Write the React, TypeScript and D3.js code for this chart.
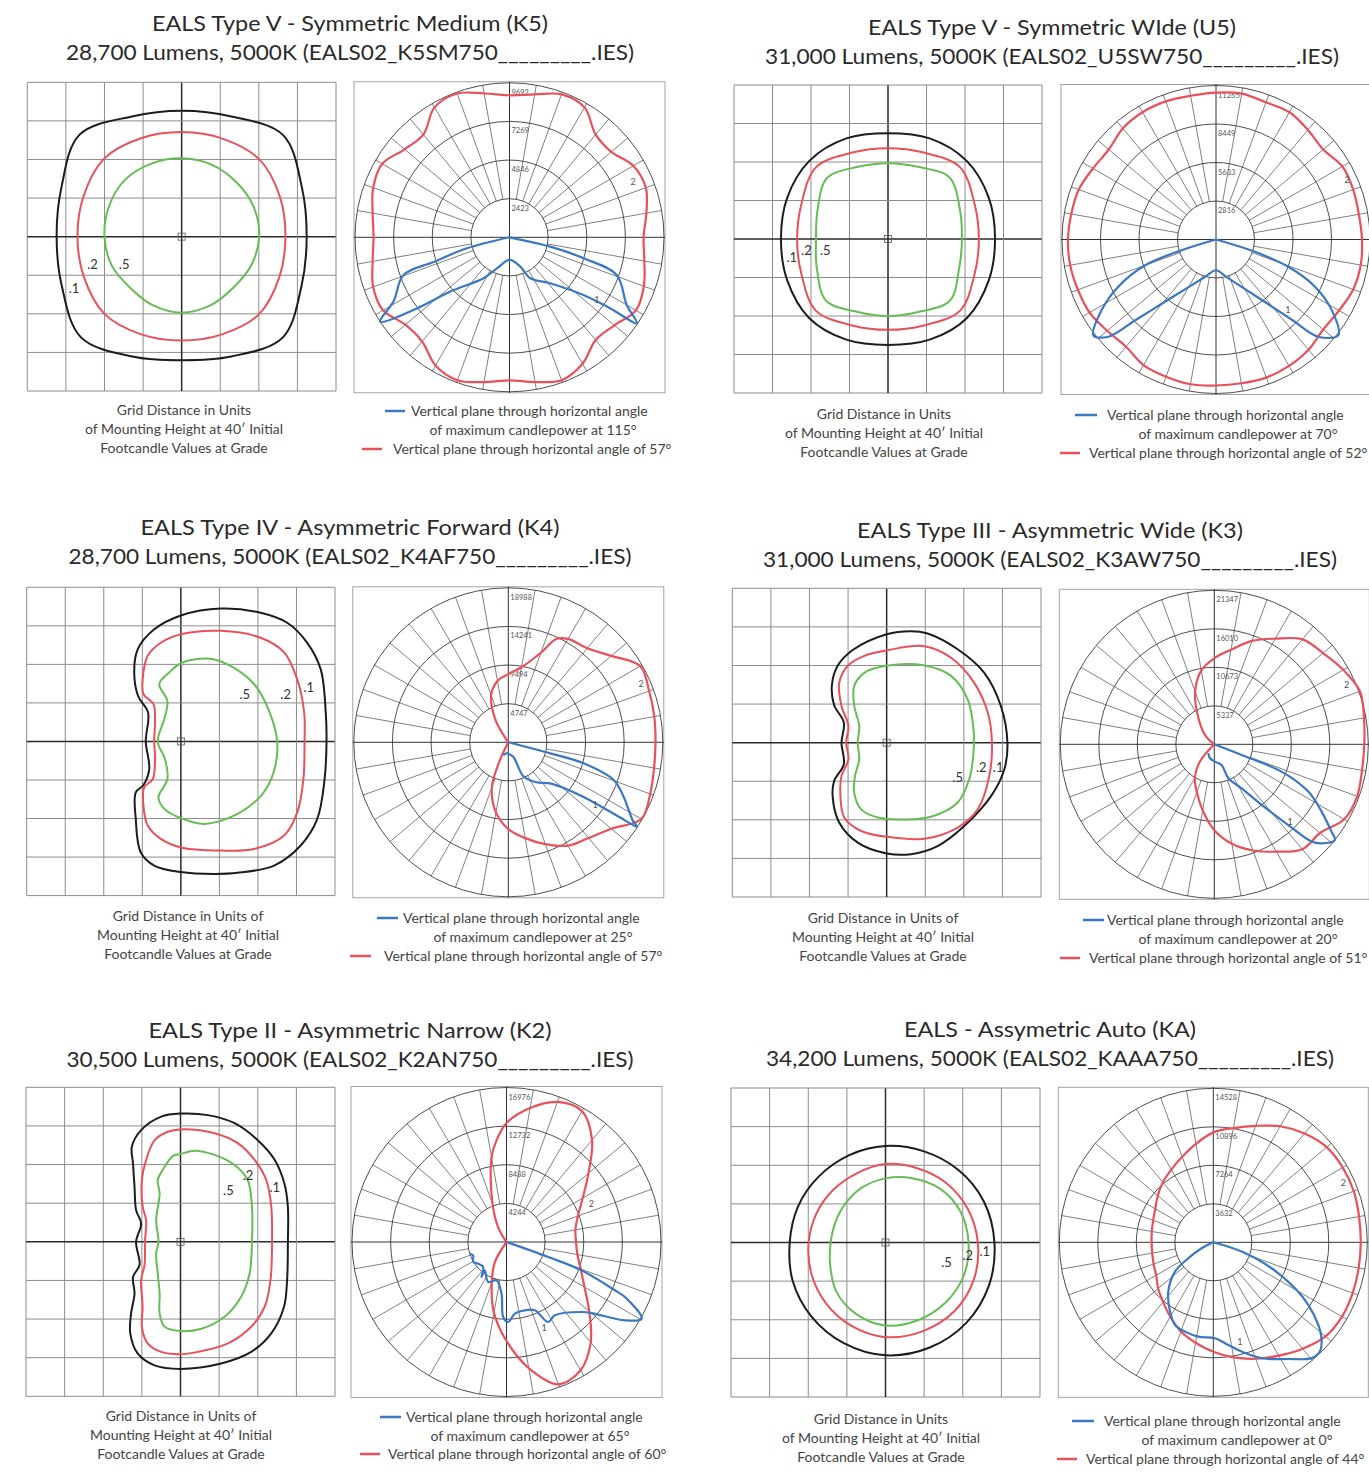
import React from "react";
import * as d3 from "d3";

type P = [number, number];

const W = 1369;
const H = 1475;
const FONT = "Lato, 'Open Sans', 'DejaVu Sans', sans-serif";
const RED = "#e8505c";
const BLUE = "#3b78c1";
const GREEN = "#66bc55";
const BLACK = "#1c1c1c";

// ---------------- text data ----------------
const titleLine1 = [
  "EALS Type V - Symmetric Medium (K5)",
  "EALS Type V - Symmetric WIde (U5)",
  "EALS Type IV - Asymmetric Forward (K4)",
  "EALS Type III - Asymmetric Wide (K3)",
  "EALS Type II - Asymmetric Narrow (K2)",
  "EALS - Assymetric Auto (KA)",
];
const titleLine2 = [
  "28,700 Lumens, 5000K (EALS02_K5SM750_________.IES)",
  "31,000 Lumens, 5000K (EALS02_U5SW750_________.IES)",
  "28,700 Lumens, 5000K (EALS02_K4AF750_________.IES)",
  "31,000 Lumens, 5000K (EALS02_K3AW750_________.IES)",
  "30,500 Lumens, 5000K (EALS02_K2AN750_________.IES)",
  "34,200 Lumens, 5000K (EALS02_KAAA750_________.IES)",
];
const maxCandleAngle = ["115°", "70°", "25°", "20°", "65°", "0°"];
const secondPlaneAngle = ["57°", "52°", "57°", "51°", "60°", "44°"];
const captionA = ["Grid Distance in Units", "of Mounting Height at 40′ Initial", "Footcandle Values at Grade"];
const captionB = ["Grid Distance in Units of", "Mounting Height at 40′ Initial", "Footcandle Values at Grade"];
const footcandleLevels = [".1", ".2", ".5"];

const ringLabels = [
  ["2423", "4846", "7269", "9692"],
  ["2816", "5633", "8449", "11265"],
  ["4747", "9494", "14241", "18988"],
  ["5337", "10673", "16010", "21347"],
  ["4244", "8488", "12732", "16976"],
  ["3632", "7264", "10896", "14528"],
];
const polarMax = [9692, 11265, 18988, 21347, 16976, 14528];

// ---------------- isofootcandle contours (grid cells) ----------------
// radii at 16 equal angles (clockwise from up), in grid cells
const isoK5Black = [3.26, 3.37, 3.72, 3.37, 3.24, 3.36, 3.7, 3.36, 3.2, 3.36, 3.69, 3.36, 3.24, 3.37, 3.74, 3.37];
const isoK5Red = [2.71, 2.75, 2.84, 2.75, 2.69, 2.74, 2.84, 2.74, 2.69, 2.74, 2.83, 2.74, 2.7, 2.75, 2.85, 2.76];
const isoK5Green = [2.03, 2.02, 2.0, 2.02, 2.01, 1.95, 1.88, 1.93, 1.97, 1.93, 1.88, 1.96, 2.0, 2.04, 2.08, 2.05];

const isoU5Black = [2.75, 2.83, 2.88, 2.83, 2.78, 2.83, 2.9, 2.83, 2.75, 2.83, 2.9, 2.83, 2.78, 2.83, 2.88, 2.83];
const isoU5Red = [2.36, 2.43, 2.64, 2.43, 2.36, 2.43, 2.64, 2.43, 2.36, 2.43, 2.64, 2.43, 2.36, 2.43, 2.64, 2.43];
const isoU5Green = [1.97, 2.03, 2.26, 2.02, 1.92, 2.0, 2.27, 2.05, 2.0, 2.05, 2.27, 2.0, 1.87, 1.98, 2.24, 2.03];

const isoKABlack = [2.5, 2.56, 2.66, 2.76, 2.82, 2.9, 2.95, 2.95, 2.92, 2.82, 2.71, 2.6, 2.48, 2.45, 2.43, 2.45];
const isoKARed = [2.03, 2.09, 2.2, 2.3, 2.39, 2.48, 2.52, 2.49, 2.45, 2.33, 2.2, 2.08, 1.99, 1.94, 1.92, 1.94];
const isoKAGreen = [1.66, 1.8, 1.98, 2.1, 2.15, 2.2, 2.2, 2.18, 2.15, 2.0, 1.8, 1.55, 1.42, 1.4, 1.45, 1.55];

// point lists [x, y] in grid cells
const isoK4Black: P[] = [
  [0, 3.27], [1.04, 3.45], [2.07, 3.34], [2.76, 3.08], [3.28, 2.56], [3.63, 1.87], [3.76, 0.75], [3.78, 0],
  [3.73, -0.98], [3.54, -2.01], [3.11, -2.7], [2.42, -3.22], [1.47, -3.41], [0.86, -3.44], [0, -3.39],
  [-0.69, -3.22], [-1.04, -2.88], [-1.17, -2.01], [-1.17, -1.32], [-0.97, -1.13], [-0.82, -0.72],
  [-0.91, 0], [-0.85, 0.75], [-1.11, 1.18], [-1.21, 1.79], [-1.12, 2.39], [-0.69, 2.91],
];
const isoK4Red: P[] = [
  [0, 2.78], [1.04, 2.87], [2.07, 2.69], [2.68, 2.31], [3.02, 1.61], [3.2, 0.75], [3.21, 0], [3.18, -0.98],
  [3.02, -1.84], [2.68, -2.44], [1.9, -2.79], [1.04, -2.83], [0, -2.75], [-0.52, -2.53], [-0.86, -2.18],
  [-0.97, -1.67], [-0.95, -1.19], [-0.73, -0.98], [-0.67, -0.46], [-0.69, 0], [-0.67, 0.58], [-0.71, 0.97],
  [-0.97, 1.23], [-0.99, 1.61], [-0.86, 2.22], [-0.52, 2.56],
];
const isoK4Green: P[] = [
  [0, 2.03], [0.69, 2.15], [1.21, 2.0], [1.9, 1.49], [2.29, 0.79], [2.5, 0], [2.42, -0.76], [2.12, -1.36],
  [1.47, -1.88], [0.6, -2.14], [0, -1.99], [-0.43, -1.75], [-0.58, -1.45], [-0.35, -0.98], [-0.41, -0.46],
  [-0.6, 0], [-0.43, 0.58], [-0.35, 1.05], [-0.56, 1.49], [-0.3, 1.79],
];

const isoK3Black: P[] = [
  [0, 2.81], [0.63, 2.89], [1.06, 2.83], [1.84, 2.42], [2.53, 1.81], [2.96, 0.95], [3.13, 0], [3.05, -0.69],
  [2.71, -1.38], [2.01, -2.16], [1.32, -2.68], [0.63, -2.89], [0, -2.87], [-0.75, -2.59], [-1.23, -2.07],
  [-1.4, -1.38], [-1.36, -0.99], [-1.11, -0.56], [-1.17, 0], [-1.11, 0.52], [-1.36, 0.97], [-1.42, 1.47],
  [-1.27, 1.99], [-0.88, 2.4],
];
const isoK3Red: P[] = [
  [0, 2.39], [0.98, 2.5], [1.67, 2.2], [2.27, 1.55], [2.62, 0.78], [2.73, 0], [2.66, -0.86], [2.36, -1.73],
  [1.84, -2.2], [0.98, -2.49], [0, -2.44], [-0.66, -2.29], [-1.1, -1.94], [-1.2, -1.3], [-1.17, -0.86],
  [-0.99, -0.43], [-1.05, 0], [-0.99, 0.43], [-1.17, 0.95], [-1.23, 1.55], [-1.01, 1.99], [-0.58, 2.25],
];
const isoK3Green: P[] = [
  [0, 1.99], [0.98, 2.0], [1.67, 1.73], [2.1, 1.12], [2.25, 0.35], [2.25, -0.26], [2.14, -0.95], [1.84, -1.55],
  [1.15, -1.92], [0.46, -1.99], [-0.23, -1.94], [-0.66, -1.73], [-0.84, -1.3], [-0.82, -0.86], [-0.71, -0.43],
  [-0.75, 0], [-0.71, 0.43], [-0.84, 0.95], [-0.84, 1.47], [-0.58, 1.81],
];

const isoK2Black: P[] = [
  [0, 3.32], [0.71, 3.28], [1.4, 3.07], [2.0, 2.63], [2.44, 2.12], [2.69, 1.51], [2.78, 0.91], [2.78, 0],
  [2.76, -0.99], [2.68, -1.68], [2.35, -2.37], [1.83, -2.85], [1.05, -3.15], [0, -3.29], [-0.67, -3.2],
  [-1.11, -2.89], [-1.3, -2.37], [-1.28, -1.86], [-1.19, -1.34], [-1.23, -0.91], [-1.06, -0.6], [-1.15, 0],
  [-1.02, 0.47], [-1.15, 0.82], [-1.19, 1.42], [-1.23, 2.03], [-1.26, 2.46], [-1.02, 2.89], [-0.5, 3.24],
];
const isoK2Red: P[] = [
  [0, 2.91], [0.88, 2.81], [1.49, 2.55], [1.92, 2.12], [2.22, 1.6], [2.35, 0.91], [2.37, 0], [2.33, -0.99],
  [2.18, -1.68], [1.83, -2.2], [1.23, -2.63], [0.45, -2.85], [0, -2.91], [-0.5, -2.85], [-0.85, -2.63],
  [-1.0, -2.2], [-0.98, -1.68], [-1.02, -0.99], [-0.93, -0.6], [-0.92, 0], [-0.89, 0.56], [-0.98, 0.91],
  [-1.0, 1.6], [-0.89, 2.12], [-0.67, 2.63], [-0.33, 2.85],
];
const isoK2Green: P[] = [
  [0, 2.27], [0.36, 2.36], [0.88, 2.25], [1.4, 1.99], [1.74, 1.6], [1.85, 0.91], [1.85, 0], [1.79, -0.82],
  [1.57, -1.42], [1.14, -1.94], [0.54, -2.25], [0, -2.31], [-0.41, -2.2], [-0.54, -1.86], [-0.54, -1.34],
  [-0.59, -0.82], [-0.63, -0.3], [-0.57, 0], [-0.63, 0.56], [-0.54, 1.25], [-0.59, 1.6], [-0.46, 1.86],
  [-0.2, 2.22],
];

// label anchor points for .1 / .2 / .5 (grid cells)
const isoLabelK5: P[] = [[-2.79, -1.33], [-2.31, -0.71], [-1.49, -0.71]];
const isoLabelU5: P[] = [[-2.5, -0.47], [-2.12, -0.31], [-1.63, -0.29]];
const isoLabelK4: P[] = [[3.32, 1.41], [2.72, 1.23], [1.66, 1.23]];
const isoLabelK3: P[] = [[2.89, -0.65], [2.45, -0.65], [1.84, -0.91]];
const isoLabelK2: P[] = [[2.44, 1.42], [1.75, 1.73], [1.24, 1.34]];
const isoLabelKA: P[] = [[2.57, -0.23], [2.13, -0.34], [1.58, -0.52]];

// ---------------- candela curves ----------------
// red: [horizontal angle deg clockwise from top, candela]
const candK5Red: P[] = [
  [0, 8910], [10, 9100], [20, 9540], [30, 9410], [40, 8410], [50, 8340], [60, 8970], [70, 9100], [80, 8720],
  [90, 8410], [100, 8590], [110, 8970], [120, 9160], [130, 8590], [140, 8410], [150, 9160], [160, 9540],
  [170, 9220], [180, 8970], [190, 9220], [200, 9540], [210, 9280], [220, 8530], [230, 8530], [240, 9160],
  [250, 9100], [260, 8720], [270, 8530], [280, 8720], [290, 9100], [300, 9220], [310, 8590], [320, 8410],
  [330, 9410], [340, 9600], [350, 9160],
];
const candU5Red: P[] = [
  [0, 10750], [10, 10830], [20, 10680], [30, 10750], [40, 10460], [50, 10240], [60, 10680], [70, 10680],
  [80, 10610], [90, 10680], [100, 10750], [110, 10680], [120, 10390], [130, 10240], [140, 10530], [150, 10680],
  [160, 10750], [170, 10680], [180, 10680], [190, 10750], [200, 10680], [210, 10610], [220, 10240], [230, 10390],
  [240, 10680], [250, 10750], [260, 10830], [270, 10830], [280, 10750], [290, 10680], [300, 10390], [310, 10240],
  [320, 10610], [330, 10750], [340, 10750], [350, 10680],
];
const candK4Red: P[] = [
  [0, 8380], [10, 9370], [20, 11710], [25, 14030], [30, 14670], [40, 15100], [50, 16520], [60, 18730],
  [70, 18420], [80, 18220], [90, 18090], [100, 18190], [110, 18560], [120, 18870], [130, 16520], [140, 15350],
  [150, 14670], [160, 13320], [170, 11960], [180, 10670], [190, 8750], [200, 5920], [205, 2500], [210, 0],
  [322, 0], [330, 3080], [340, 6170], [350, 7650],
];
const candK3Red: P[] = [
  [0, 11920], [10, 13310], [20, 15250], [30, 16910], [40, 18990], [50, 19680], [60, 20650], [70, 21480],
  [80, 21070], [90, 20790], [100, 20790], [110, 21070], [120, 20790], [130, 19130], [140, 18990], [150, 17190],
  [160, 15660], [170, 14000], [180, 11920], [190, 9290], [200, 7070], [210, 5410], [220, 3050], [230, 0],
  [305, 0], [315, 1800], [330, 4570], [340, 7760], [350, 10400],
];
const candK2Red: P[] = [
  [0, 13080], [10, 14950], [20, 16380], [30, 16600], [40, 14620], [50, 11760], [60, 9670], [70, 8350],
  [80, 7690], [90, 7640], [100, 7910], [110, 8680], [120, 9890], [130, 11870], [140, 14400], [150, 16270],
  [160, 16640], [170, 14070], [180, 10880], [190, 7910], [200, 4730], [210, 2530], [220, 0], [325, 0],
  [330, 1760], [340, 4510], [350, 9450], [355, 11430],
];
const candKARed: P[] = [
  [0, 10370], [10, 10940], [20, 11690], [30, 12640], [40, 13390], [50, 13960], [60, 14100], [70, 14100],
  [80, 13960], [90, 13910], [100, 13930], [110, 13990], [120, 14020], [130, 13820], [140, 13110], [150, 12350],
  [160, 11690], [170, 11030], [180, 10330], [190, 9620], [200, 8960], [210, 8110], [220, 7360], [230, 6790],
  [240, 6220], [250, 5990], [260, 5850], [270, 5820], [280, 5890], [290, 6040], [300, 6320], [310, 6840],
  [320, 7400], [330, 7920], [340, 8580], [350, 9430],
];

// blue: [vertical angle from nadir (negative = opposite side), candela]
const candK5Blue: P[] = [
  [-78, 0], [-75.5, 2760], [-72, 5010], [-70.4, 7060], [-61, 8320], [-56.9, 9690], [-52.5, 7330],
  [-47.5, 5040], [-32.4, 3040], [-22, 2100], [0, 1420], [20, 1940], [27, 2880], [41.5, 3850], [52, 5880],
  [54.8, 7720], [56, 9640], [60, 8490], [70.6, 7130], [74.2, 4830], [77.1, 2620], [79, 0],
];
const candU5Blue: P[] = [
  [-74.5, 0], [-72.7, 2630], [-70, 5520], [-64.2, 7940], [-58.3, 9830], [-52, 11380], [-47.9, 10610],
  [-45, 8350], [-40.1, 6120], [-29.7, 3990], [-16.1, 2840], [0, 2250], [15.3, 2830], [28.4, 3940],
  [38.7, 6000], [43.5, 8140], [46.4, 10310], [52, 11360], [58.6, 9920], [64.5, 8020], [69.3, 5650],
  [72.5, 2990], [74.5, 0],
];
const candK4Blue: P[] = [
  [-21.5, 1680], [-9, 1360], [0, 1400], [19, 1870], [24, 4610], [35, 6000], [45.5, 7210], [54, 11420],
  [56, 16080], [56.7, 18930], [58, 18000], [60.6, 16990], [64.7, 15680], [70.3, 13760], [74.4, 9600],
  [75.2, 5310], [76.5, 0],
];
const candK3Blue: P[] = [
  [-34, 1500], [-17, 2020], [2, 2400], [19.4, 3040], [22.4, 5100], [31.8, 7180], [38, 10670], [42.5, 15180],
  [45, 19070], [47.3, 20240], [51.6, 21340], [53.3, 20260], [57.9, 17560], [63.3, 14580], [67.9, 10060],
  [68.6, 4060], [69.5, 0],
];
const candK2Blue: P[] = [
  [-72.3, 4230], [-68.2, 3950], [-59, 4260], [-52.5, 3920], [-43, 3760], [-35.5, 4730], [-37.5, 3920],
  [-24.6, 4840], [-14.6, 4350], [-5.5, 5700], [-2.5, 8250], [1.2, 8790], [6.6, 7920], [15, 7770],
  [22.5, 8120], [27.5, 9910], [33.4, 9650], [47, 11280], [50.9, 12510], [56.5, 15600], [60.4, 17070],
  [65.1, 14340], [66, 13030], [69.3, 8810], [70.2, 4870], [71, 0],
];
const candKABlue: P[] = [
  [-64, 0], [-62.9, 1240], [-57.4, 2800], [-52.6, 4550], [-42.4, 6300], [-32, 7700], [-24.8, 8590],
  [-17.6, 8840], [-9, 9010], [1, 9050], [8.3, 9790], [14.5, 10650], [22.6, 11850], [32.7, 13080],
  [40.3, 14330], [44.3, 14400], [48.4, 13650], [51.8, 12610], [56.6, 10730], [60.6, 8850], [66, 6020],
  [71.8, 2810], [74, 0],
];

// polar curve-number labels: [angle deg, candela] for "2" (red) and "1" (blue)
const polarLabel2: P[] = [[65.8, 8510], [65.6, 10530], [66.2, 17840], [65.9, 20100], [65.5, 10240], [65.6, 13470]];
const polarLabel1: P[] = [[125.7, 6740], [134.4, 7370], [125.9, 13190], [135.6, 15010], [156.5, 10340], [165, 9700]];

// ---------------- layout ----------------
const layout = [
  { tx: 350, ty: [31, 60], tw: [396, 568], iso: { x: 27.3, y: 82.3, s: 308.7 }, pol: { cx: 509.5, cy: 237.3, R: 154.5 },
    cap: { x: 184, y: [415, 434, 453] }, leg: { b: [385, 405, 411], t1: [411, 416], t2: [533, 435], r: [362, 382, 449], t3: [393, 454] } },
  { tx: 1052, ty: [35, 64], tw: [368, 574], iso: { x: 734, y: 85, s: 308 }, pol: { cx: 1216, cy: 239.5, R: 154 },
    cap: { x: 884, y: [419, 438, 457] }, leg: { b: [1075, 1097, 415], t1: [1107, 420], t2: [1238, 439], r: [1060, 1080, 453], t3: [1089, 458] } },
  { tx: 350, ty: [535, 564], tw: [419, 563], iso: { x: 26.7, y: 587.3, s: 308.3 }, pol: { cx: 508.3, cy: 742.3, R: 154.5 },
    cap: { x: 188, y: [921, 940, 959] }, leg: { b: [377, 398, 918], t1: [403, 923], t2: [533, 942], r: [350, 371, 956], t3: [384, 961] } },
  { tx: 1050, ty: [538, 567], tw: [386, 574], iso: { x: 732.3, y: 588.3, s: 308.7 }, pol: { cx: 1214.3, cy: 744.3, R: 154 },
    cap: { x: 883, y: [923, 942, 961] }, leg: { b: [1083, 1104, 920], t1: [1107, 925], t2: [1238, 944], r: [1060, 1080, 958], t3: [1089, 963] } },
  { tx: 350, ty: [1038, 1067], tw: [403, 567], iso: { x: 26, y: 1087.3, s: 309 }, pol: { cx: 506.5, cy: 1242, R: 154.5 },
    cap: { x: 181, y: [1421, 1440, 1459] }, leg: { b: [380, 401, 1417], t1: [406, 1422], t2: [530, 1441], r: [360, 380, 1454], t3: [388, 1459] } },
  { tx: 1050, ty: [1037, 1066], tw: [292, 568], iso: { x: 731, y: 1088, s: 309 }, pol: { cx: 1213.3, cy: 1242.3, R: 154 },
    cap: { x: 881, y: [1424, 1443, 1462] }, leg: { b: [1072, 1094, 1421], t1: [1104, 1426], t2: [1237, 1445], r: [1057, 1077, 1459], t3: [1086, 1464] } },
];

type Contour = { color: string; radii?: number[]; pts?: P[] };
const isoSets: Contour[][] = [
  [{ color: BLACK, radii: isoK5Black }, { color: RED, radii: isoK5Red }, { color: GREEN, radii: isoK5Green }],
  [{ color: BLACK, radii: isoU5Black }, { color: RED, radii: isoU5Red }, { color: GREEN, radii: isoU5Green }],
  [{ color: BLACK, pts: isoK4Black }, { color: RED, pts: isoK4Red }, { color: GREEN, pts: isoK4Green }],
  [{ color: BLACK, pts: isoK3Black }, { color: RED, pts: isoK3Red }, { color: GREEN, pts: isoK3Green }],
  [{ color: BLACK, pts: isoK2Black }, { color: RED, pts: isoK2Red }, { color: GREEN, pts: isoK2Green }],
  [{ color: BLACK, radii: isoKABlack }, { color: RED, radii: isoKARed }, { color: GREEN, radii: isoKAGreen }],
];
const isoLabels = [isoLabelK5, isoLabelU5, isoLabelK4, isoLabelK3, isoLabelK2, isoLabelKA];
const redCurves = [candK5Red, candU5Red, candK4Red, candK3Red, candK2Red, candKARed];
const blueCurves = [candK5Blue, candU5Blue, candK4Blue, candK3Blue, candK2Blue, candKABlue];
const captions = [captionA, captionA, captionB, captionB, captionB, captionA];

function IsoPlot({ i }: { i: number }) {
  const L = layout[i].iso;
  const xs = d3.scaleLinear().domain([-4, 4]).range([L.x, L.x + L.s]);
  const ys = d3.scaleLinear().domain([-4, 4]).range([L.y + L.s, L.y]);
  const k = L.s / 8;
  const grid = d3.range(-4, 5);
  const ptLine = d3
    .line<P>()
    .x((d) => xs(d[0]))
    .y((d) => ys(d[1]))
    .curve(d3.curveCatmullRomClosed.alpha(0.5));
  const radLine = d3
    .lineRadial<number>()
    .angle((_d, j, arr) => (j / (arr as number[]).length) * 2 * Math.PI)
    .radius((d) => d * k)
    .curve(d3.curveCatmullRomClosed.alpha(0.5));
  return (
    <g>
      {grid.map((g) => (
        <g key={g}>
          <line x1={xs(g)} x2={xs(g)} y1={L.y} y2={L.y + L.s} stroke={g === 0 ? "#2a2a2a" : "#8c8c8c"} strokeWidth={g === 0 ? 1.5 : 1} />
          <line y1={ys(g)} y2={ys(g)} x1={L.x} x2={L.x + L.s} stroke={g === 0 ? "#2a2a2a" : "#8c8c8c"} strokeWidth={g === 0 ? 1.5 : 1} />
        </g>
      ))}
      <rect x={xs(0) - 3.5} y={ys(0) - 3.5} width={7} height={7} fill="none" stroke="#555" strokeWidth={0.8} />
      {isoSets[i].map((c, j) =>
        c.pts ? (
          <path key={j} d={ptLine(c.pts) || ""} fill="none" stroke={c.color} strokeWidth={2} />
        ) : (
          <path key={j} d={radLine(c.radii as number[]) || ""} transform={`translate(${xs(0)},${ys(0)})`} fill="none" stroke={c.color} strokeWidth={2} />
        )
      )}
      {isoLabels[i].map((p, j) => (
        <text key={j} x={xs(p[0])} y={ys(p[1])} dy="0.35em" textAnchor="middle" fontSize={13} fill="#333" fontFamily={FONT}>
          {footcandleLevels[j]}
        </text>
      ))}
    </g>
  );
}

function PolarPlot({ i }: { i: number }) {
  const { cx, cy, R } = layout[i].pol;
  const max = polarMax[i];
  const r = d3.scaleLinear().domain([0, max]).range([0, R]);
  const rings = [0.25, 0.5, 0.75, 1].map((f) => f * max);
  const spokes = d3.range(0, 360, 10).filter((a) => a % 90 !== 0);
  const rad = (a: number) => (a * Math.PI) / 180;
  const redPath = d3
    .lineRadial<P>()
    .angle((d) => rad(d[0]))
    .radius((d) => r(d[1]))
    .curve(d3.curveCatmullRomClosed.alpha(0.5))(redCurves[i]);
  const bluePath = d3
    .lineRadial<P>()
    .angle((d) => rad(180 - d[0]))
    .radius((d) => r(d[1]))
    .curve(d3.curveCatmullRom.alpha(0.5))(blueCurves[i]);
  const pos = (p: P) => [cx + r(p[1]) * Math.sin(rad(p[0])), cy - r(p[1]) * Math.cos(rad(p[0]))];
  const l2 = pos(polarLabel2[i]);
  const l1 = pos(polarLabel1[i]);
  return (
    <g>
      <rect x={cx - R - 1} y={cy - R - 1} width={2 * R + 2} height={2 * R + 2} fill="none" stroke="#9a9a9a" strokeWidth={0.9} />
      {spokes.map((a) => (
        <line
          key={a}
          x1={cx + r(rings[0]) * Math.sin(rad(a))}
          y1={cy - r(rings[0]) * Math.cos(rad(a))}
          x2={cx + R * Math.sin(rad(a))}
          y2={cy - R * Math.cos(rad(a))}
          stroke="#555"
          strokeWidth={0.75}
        />
      ))}
      {rings.map((v, j) => (
        <circle key={j} cx={cx} cy={cy} r={r(v)} fill="none" stroke="#3a3a3a" strokeWidth={0.9} />
      ))}
      <line x1={cx - R - 1} x2={cx + R + 1} y1={cy} y2={cy} stroke="#333" strokeWidth={1} />
      <line y1={cy - R - 1} y2={cy + R + 1} x1={cx} x2={cx} stroke="#333" strokeWidth={1} />
      {rings.map((v, j) => (
        <text key={j} x={cx + 2} y={cy - r(v) + 12} fontSize={7.5} fill="#555" fontFamily={FONT}>
          {ringLabels[i][j]}
        </text>
      ))}
      <path d={redPath || ""} transform={`translate(${cx},${cy})`} fill="none" stroke={RED} strokeWidth={2.2} />
      <path d={bluePath || ""} transform={`translate(${cx},${cy})`} fill="none" stroke={BLUE} strokeWidth={2.2} strokeLinejoin="round" />
      <text x={l2[0]} y={l2[1]} dy="0.35em" textAnchor="middle" fontSize={9} fill="#555" fontFamily={FONT}>2</text>
      <text x={l1[0]} y={l1[1]} dy="0.35em" textAnchor="middle" fontSize={9} fill="#555" fontFamily={FONT}>1</text>
    </g>
  );
}

function Panel({ i }: { i: number }) {
  const L = layout[i];
  const lg = L.leg;
  return (
    <g>
      <text x={L.tx} y={L.ty[0]} textAnchor="middle" fontSize={21} fill="#2a2a2a" fontFamily={FONT} textLength={L.tw[0]} lengthAdjust="spacingAndGlyphs">
        {titleLine1[i]}
      </text>
      <text x={L.tx} y={L.ty[1]} textAnchor="middle" fontSize={21} fill="#2a2a2a" fontFamily={FONT} textLength={L.tw[1]} lengthAdjust="spacingAndGlyphs">
        {titleLine2[i]}
      </text>
      <IsoPlot i={i} />
      <PolarPlot i={i} />
      {captions[i].map((t, j) => (
        <text key={j} x={L.cap.x} y={L.cap.y[j]} textAnchor="middle" fontSize={14} fill="#444" fontFamily={FONT}>
          {t}
        </text>
      ))}
      <line x1={lg.b[0]} x2={lg.b[1]} y1={lg.b[2]} y2={lg.b[2]} stroke={BLUE} strokeWidth={2.5} />
      <text x={lg.t1[0]} y={lg.t1[1]} fontSize={14} fill="#444" fontFamily={FONT}>Vertical plane through horizontal angle</text>
      <text x={lg.t2[0]} y={lg.t2[1]} textAnchor="middle" fontSize={14} fill="#444" fontFamily={FONT}>
        {`of maximum candlepower at ${maxCandleAngle[i]}`}
      </text>
      <line x1={lg.r[0]} x2={lg.r[1]} y1={lg.r[2]} y2={lg.r[2]} stroke={RED} strokeWidth={2.5} />
      <text x={lg.t3[0]} y={lg.t3[1]} fontSize={14} fill="#444" fontFamily={FONT}>
        {`Vertical plane through horizontal angle of ${secondPlaneAngle[i]}`}
      </text>
    </g>
  );
}

export default function App() {
  return (
    <svg
      width={W}
      height={H}
      viewBox={`0 0 ${W} ${H}`}
      style={{ position: "absolute", left: 0, top: 0, background: "#fff", overflow: "hidden" }}
    >
      <rect x={0} y={0} width={W} height={H} fill="#fff" />
      {d3.range(6).map((i) => (
        <Panel key={i} i={i} />
      ))}
    </svg>
  );
}
